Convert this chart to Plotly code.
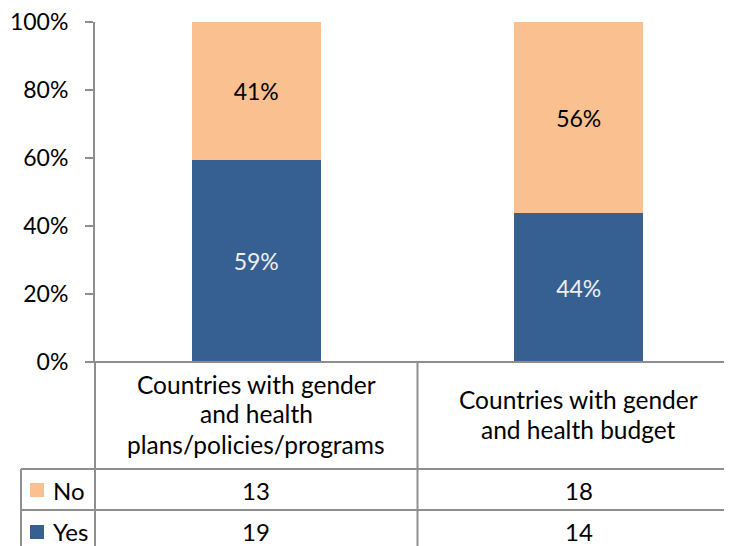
import plotly.graph_objects as go

categories = [
    ["Countries with gender", "and health", "plans/policies/programs"],
    ["Countries with gender", "and health budget"],
]
series_names = ["Yes", "No"]
yes_counts = [19, 14]
no_counts = [13, 18]
y_ticks = [0, 20, 40, 60, 80, 100]

BLUE = "#376092"
ORANGE = "#FAC090"
GRID = "#8E8E8E"
FONT = "Lato"

OFF = 8  # page body margin offset
W, H = 732, 546
L, R, T, B = 87, 0, 14, 192
PW, PH = W - L - R, H - T - B

def px(x):
    return (x - OFF - L) / PW

def py(y):
    return (H - B - (y - OFF)) / PH

totals = [a + b for a, b in zip(yes_counts, no_counts)]
yes_pct = [100 * a / t for a, t in zip(yes_counts, totals)]
no_pct = [100 * b / t for b, t in zip(no_counts, totals)]
xs = list(range(len(categories)))

fig = go.Figure()
fig.add_trace(go.Bar(
    x=xs, y=yes_pct, name=series_names[0], marker=dict(color=BLUE, line=dict(width=0)),
    width=0.4, text=[f"{v:.0f}%" for v in yes_pct], textposition="inside",
    insidetextanchor="middle", textfont=dict(color="#EFEFEF", size=23, family=FONT),
))
fig.add_trace(go.Bar(
    x=xs, y=no_pct, name=series_names[1], marker=dict(color=ORANGE, line=dict(width=0)),
    width=0.4, text=[f"{v:.0f}%" for v in no_pct], textposition="inside",
    insidetextanchor="middle", textfont=dict(color="#000000", size=23, family=FONT),
))

shapes = []
line = dict(color=GRID, width=2)
# x-axis line / top of table
shapes.append(dict(type="line", xref="paper", yref="paper", x0=px(87), x1=1, y0=py(362), y1=py(362), line=line))
# vertical lines of table
shapes.append(dict(type="line", xref="paper", yref="paper", x0=px(95), x1=px(95), y0=py(362), y1=py(560), line=line))
shapes.append(dict(type="line", xref="paper", yref="paper", x0=0.5, x1=0.5, y0=py(362), y1=py(560), line=line))
shapes.append(dict(type="line", xref="paper", yref="paper", x0=px(21), x1=px(21), y0=py(469), y1=py(560), line=line))
# row lines
for yy in (469, 510):
    shapes.append(dict(type="line", xref="paper", yref="paper", x0=px(21), x1=1, y0=py(yy), y1=py(yy), line=line))
# legend keys
for yc, col in ((490, ORANGE), (532, BLUE)):
    shapes.append(dict(type="rect", xref="paper", yref="paper", x0=px(30), x1=px(44),
                       y0=py(yc + 7), y1=py(yc - 7), fillcolor=col, line=dict(width=0)))

ann = []
font = dict(family=FONT, size=24, color="#000000")
cat_font = dict(family=FONT, size=24.5, color="#000000")
# category labels
for i, lines in enumerate(categories):
    n = len(lines)
    start = 414 - (n - 1) * 30 / 2
    for j, t in enumerate(lines):
        ann.append(dict(text=t, xref="x", yref="paper", x=i, y=py(start + j * 30),
                        showarrow=False, font=cat_font, xanchor="center", yanchor="middle"))
# table rows
for yc, name, vals in ((490, series_names[1], no_counts), (531, series_names[0], yes_counts)):
    ann.append(dict(text=name, xref="paper", yref="paper", x=px(51), y=py(yc),
                    showarrow=False, font=font, xanchor="left", yanchor="middle"))
    for i, v in enumerate(vals):
        ann.append(dict(text=str(v), xref="x", yref="paper", x=i, y=py(yc),
                        showarrow=False, font=font, xanchor="center", yanchor="middle"))

fig.update_layout(
    width=W, height=H, barmode="stack",
    margin=dict(l=L, r=R, t=T, b=B, pad=0, autoexpand=False),
    paper_bgcolor="white", plot_bgcolor="white",
    showlegend=False, shapes=shapes, annotations=ann,
    font=dict(family=FONT, size=20, color="#000000"),
    xaxis=dict(range=[-0.5, 1.5], showticklabels=False,
               showgrid=False, zeroline=False, showline=False, ticks=""),
    yaxis=dict(range=[0, 100], tickvals=y_ticks, ticktext=[f"{v}%" for v in y_ticks],
               showgrid=False, zeroline=False, showline=True, linecolor=GRID, linewidth=2,
               ticks="outside", ticklen=8, tickcolor=GRID, tickwidth=2,
               ticklabelstandoff=12, ticklabeloverflow="allow", automargin=False,
               tickfont=dict(family=FONT, size=23, color="#000000")),
)

fig.write_html("out.html")
